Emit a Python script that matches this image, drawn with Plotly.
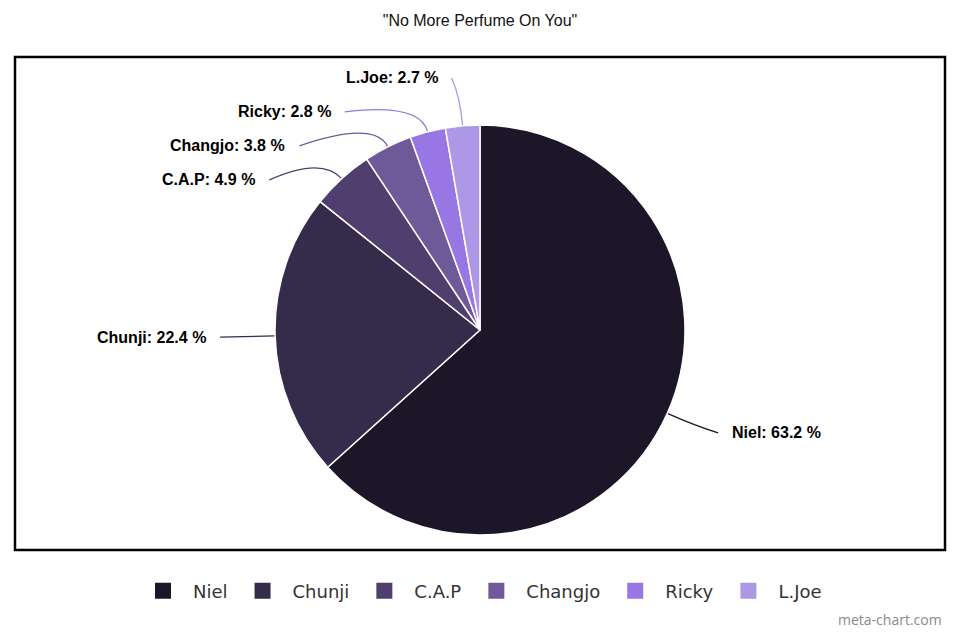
import math
import plotly.graph_objects as go

# ---- data ----
labels = ["Niel", "Chunji", "C.A.P", "Changjo", "Ricky", "L.Joe"]
values = [63.2, 22.4, 4.9, 3.8, 2.8, 2.7]
colors = ["#1c1628", "#352b4b", "#4e3f6e", "#6f5a99", "#9876e3", "#ad98e8"]
title_text = '"No More Perfume On You"'
watermark = "meta-chart.com"

# ---- geometry (page pixels; the page body has an 8px margin) ----
OFF = 8
PAGE_W, PAGE_H = 960, 640
W, H = PAGE_W - OFF, PAGE_H - 2 * OFF
BOX_L, BOX_R, BOX_T, BOX_B = 15, 945, 57, 550
ML, MR, MT = BOX_L - OFF, PAGE_W - BOX_R, BOX_T - OFF
MB = H - (BOX_B - OFF)
PW, PH = BOX_R - BOX_L, BOX_B - BOX_T
CX, CY, R = 480, 330, 205
LABEL_R = 253
MIN_GAP = 34
CROOK_R = R + 30


def fx(x):
    return (x - BOX_L) / PW


def fy(y):
    return (BOX_B - y) / PH


total = sum(values)
cum = 0.0
items = []
for lab, v, c in zip(labels, values, colors):
    theta = (cum + v / 2) / total * 2 * math.pi
    cum += v
    s, co = math.sin(theta), math.cos(theta)
    items.append(dict(label=lab, value=v, color=c, s=s, c=co,
                      side=1 if s >= 0 else -1,
                      y=CY - LABEL_R * co))

# simple collision avoidance per side
for side in (1, -1):
    group = sorted([it for it in items if it["side"] == side], key=lambda d: d["y"])
    for i in range(1, len(group)):
        if group[i]["y"] < group[i - 1]["y"] + MIN_GAP:
            group[i]["y"] = group[i - 1]["y"] + MIN_GAP
for it in items:
    dy = it["y"] - CY
    it["x"] = CX + it["side"] * math.sqrt(max(LABEL_R ** 2 - dy ** 2, 0))

annotations = []
shapes = []
for it in items:
    side = it["side"]
    ex, ey = CX + R * it["s"], CY - R * it["c"]
    kx, ky = CX + CROOK_R * it["s"], CY - CROOK_R * it["c"]
    lx, ly = it["x"] + side * 7, it["y"]
    path = (f"M {fx(lx):.5f},{fy(ly):.5f} Q {fx(kx):.5f},{fy(ky):.5f} "
            f"{fx(ex):.5f},{fy(ey):.5f}")
    shapes.append(dict(type="path", xref="paper", yref="paper", path=path,
                       line=dict(color=it["color"], width=1.3), layer="below"))
    annotations.append(dict(
        xref="paper", yref="paper",
        x=fx(it["x"] + side * 19), y=fy(it["y"]),
        xanchor="left" if side > 0 else "right", yanchor="middle",
        text=f"<b>{it['label']}: {it['value']:.1f} %</b>",
        showarrow=False,
        font=dict(family="Liberation Sans, Arial, sans-serif", size=16, color="#000000"),
    ))

annotations.append(dict(
    xref="paper", yref="paper", x=fx(944), y=fy(619),
    xanchor="right", yanchor="middle", text=watermark, showarrow=False,
    font=dict(family="Open Sans, sans-serif", size=14, color="#8a8a8a"),
))

# frame
shapes.append(dict(type="rect", xref="paper", yref="paper", x0=0, y0=0, x1=1, y1=1,
                   line=dict(color="#000000", width=2.5), layer="above"))

fig = go.Figure()
fig.add_trace(go.Pie(
    labels=labels, values=values, sort=False, direction="clockwise", rotation=0,
    marker=dict(colors=colors, line=dict(color="#ffffff", width=1.5)),
    textinfo="none", showlegend=False,
    domain=dict(x=[fx(CX - R), fx(CX + R)], y=[fy(CY + R), fy(CY - R)]),
))
for lab, c in zip(labels, colors):
    fig.add_trace(go.Scatter(x=[None], y=[None], mode="markers", name=lab,
                             marker=dict(symbol="square", size=16, color=c),
                             showlegend=True, hoverinfo="skip"))

fig.update_layout(
    width=W, height=H,
    margin=dict(l=ML, r=MR, t=MT, b=MB),
    paper_bgcolor="#ffffff", plot_bgcolor="#ffffff",
    title=dict(text=title_text, x=fx(480), xref="paper", xanchor="center",
               y=1 - (20 - OFF) / H, yanchor="middle",
               font=dict(family="Liberation Sans, Arial, sans-serif", size=16, color="#111111")),
    xaxis=dict(visible=False), yaxis=dict(visible=False),
    legend=dict(orientation="h", x=fx(480), xanchor="center", y=fy(591), yanchor="middle",
                itemwidth=50,
                font=dict(family="DejaVu Sans, sans-serif", size=18, color="#333333"),
                itemclick=False),
    shapes=shapes, annotations=annotations,
)

fig.write_html("out.html")
